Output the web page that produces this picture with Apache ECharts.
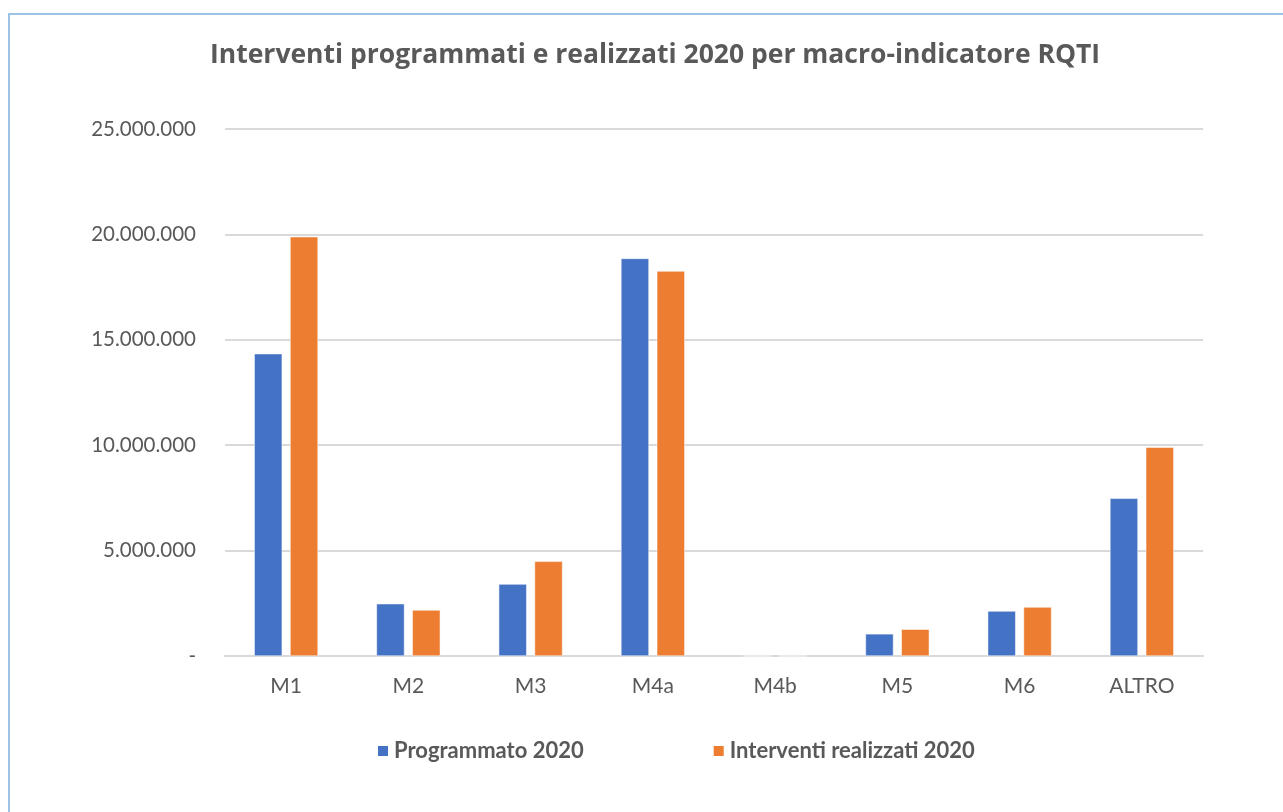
<!DOCTYPE html>
<html>
<head>
<meta charset="utf-8">
<script src="https://cdn.jsdelivr.net/npm/echarts@6/dist/echarts.min.js"></script>
<style>
html,body{margin:0;padding:0;background:#fff;}
#c{width:1283px;height:812px;}
</style>
</head>
<body>
<div id="c"></div>
<script>
const categories = ['M1','M2','M3','M4a','M4b','M5','M6','ALTRO'];
const programmato = [14340000, 2480000, 3410000, 18860000, 0, 1050000, 2130000, 7480000];
const realizzati = [19890000, 2180000, 4490000, 18260000, 0, 1270000, 2320000, 9900000];
const seriesNames = ['Programmato 2020', 'Interventi realizzati 2020'];
const titleText = 'Interventi programmati e realizzati 2020 per macro-indicatore RQTI';

function fmt(v){
  if (v === 0) return '-';
  return String(Math.round(v)).replace(/\B(?=(\d{3})+(?!\d))/g, '.');
}

const chart = echarts.init(document.getElementById('c'));
chart.setOption({
  backgroundColor: '#fff',
  animation: false,
  graphic: [{
    type: 'rect',
    shape: {x: 9, y: 14, width: 1300, height: 820},
    style: {fill: 'none', stroke: '#9DC3E6', lineWidth: 2},
    silent: true
  }],
  title: {
    text: titleText,
    left: 205,
    top: 37,
    textStyle: {fontFamily: 'Open Sans', fontWeight: 'bold', fontSize: 26.5, color: '#595959'}
  },
  legend: {
    data: seriesNames,
    left: 371,
    top: 735,
    itemWidth: 12,
    itemHeight: 12,
    itemGap: 128,
    icon: 'rect',
    textStyle: {fontFamily: 'Lato', fontWeight: 'bold', fontSize: 22, color: '#595959'}
  },
  grid: {left: 225, right: 80, top: 129, bottom: 156, containLabel: false},
  xAxis: {
    type: 'category',
    data: categories,
    axisLine: {lineStyle: {color: '#D9D9D9', width: 2}},
    axisTick: {show: false},
    axisLabel: {fontFamily: 'Lato', fontSize: 21, color: '#595959', margin: 20}
  },
  yAxis: {
    type: 'value',
    min: 0,
    max: 25000000,
    interval: 5000000,
    axisLine: {show: false},
    axisTick: {show: false},
    splitLine: {lineStyle: {color: '#D9D9D9', width: 2}},
    axisLabel: {fontFamily: 'Lato', fontSize: 20.5, color: '#595959', margin: 29, formatter: fmt}
  },
  series: [
    {name: seriesNames[0], type: 'bar', data: programmato, barWidth: 28, barGap: '28%',
     itemStyle: {color: '#4472C4', borderColor: '#fff', borderWidth: 0.5}},
    {name: seriesNames[1], type: 'bar', data: realizzati, barWidth: 28,
     itemStyle: {color: '#ED7D31', borderColor: '#fff', borderWidth: 0.5}}
  ]
});
</script>
</body>
</html>
